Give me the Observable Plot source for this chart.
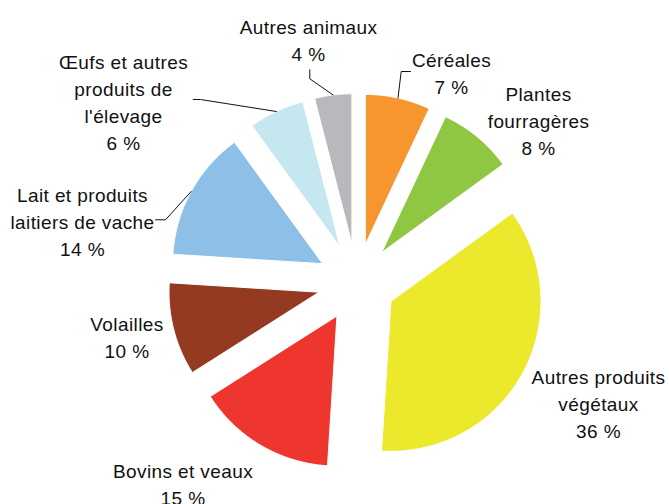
<!DOCTYPE html>
<html>
<head>
<meta charset="utf-8">
<script src="https://cdn.jsdelivr.net/npm/d3@7"></script>
<script src="https://cdn.jsdelivr.net/npm/@observablehq/plot@0.6"></script>
<style>
  html, body { margin: 0; padding: 0; background: #fff; }
</style>
</head>
<body>
<div id="chart"></div>
<script>
// ---- Data ----
const categories = [
  "Céréales",
  "Plantes fourragères",
  "Autres produits végétaux",
  "Bovins et veaux",
  "Volailles",
  "Lait et produits laitiers de vache",
  "Œufs et autres produits de l'élevage",
  "Autres animaux"
];
const values = [7, 8, 36, 15, 10, 14, 6, 4];
const labelLines = [
  "Céréales",
  "Plantes\nfourragères",
  "Autres produits\nvégétaux",
  "Bovins et veaux",
  "Volailles",
  "Lait et produits\nlaitiers de vache",
  "Œufs et autres\nproduits de\nl'élevage",
  "Autres animaux"
];
const colors = ["#F7962F", "#8FC742", "#ECE82C", "#EE352E", "#943A21", "#8EBFE7", "#C5E7F0", "#B8B9BD"];

// ---- Layout (pixels) ----
const W = 669, H = 504;
const cx = 356.3, cy = 282, R = 150, explodePx = 39;
const labelPx = [[451, 71], [538, 119], [598, 402], [182.5, 482.5], [126.5, 335.5], [82, 220], [123, 100.5], [308, 38.5]];
// leader lines: [index, start, elbow]
const leaderPx = [
  [0, [410, 71], [400.7, 71]],
  [5, [155, 219.3], [165, 219.3]],
  [6, [192.7, 99], [200, 99]],
  [7, [309.3, 69.3], [309.3, 78.3]]
];

// data units: radius = 1
const toX = px => (px - cx) / R;
const toY = py => (cy - py) / R;
const off = explodePx / R;

const arcs = d3.pie().sort(null).startAngle(0).endAngle(2 * Math.PI)(values);

const slicePts = [];
arcs.forEach((a, i) => {
  const m = (a.startAngle + a.endAngle) / 2;
  const ox = off * Math.sin(m), oy = off * Math.cos(m);
  const name = categories[i];
  slicePts.push({name, x: ox, y: oy});
  const n = Math.max(8, Math.ceil((a.endAngle - a.startAngle) / 0.01));
  for (let k = 0; k <= n; k++) {
    const t = a.startAngle + (a.endAngle - a.startAngle) * k / n;
    slicePts.push({name, x: ox + Math.sin(t), y: oy + Math.cos(t)});
  }
  slicePts.push({name, x: ox, y: oy});
});

const labels = categories.map((c, i) => ({
  name: c,
  text: labelLines[i] + "\n" + values[i] + " %",
  x: toX(labelPx[i][0]),
  y: toY(labelPx[i][1])
}));

const leaders = [];
leaderPx.forEach(([i, s, e]) => {
  const a = arcs[i];
  const m = (a.startAngle + a.endAngle) / 2;
  leaders.push({name: categories[i], x: toX(s[0]), y: toY(s[1])});
  leaders.push({name: categories[i], x: toX(e[0]), y: toY(e[1])});
  leaders.push({name: categories[i], x: (off + 1) * Math.sin(m), y: (off + 1) * Math.cos(m)});
});

const chart = Plot.plot({
  width: W,
  height: H,
  margin: 0,
  style: {fontFamily: "'Liberation Sans', Arial, sans-serif", fontSize: "19px", letterSpacing: "0.4px", color: "#111", background: "#fff"},
  x: {domain: [toX(0), toX(W)], axis: null},
  y: {domain: [toY(H), toY(0)], axis: null},
  color: {domain: categories, range: colors},
  marks: [
    Plot.line(slicePts, {x: "x", y: "y", z: "name", fill: "name", stroke: "white", strokeWidth: 1, curve: "linear"}),
    Plot.line(leaders, {x: "x", y: "y", z: "name", stroke: "#111", strokeWidth: 1}),
    Plot.text(labels, {x: "x", y: "y", text: "text", lineHeight: 1.42, fontSize: 19, fill: "#111"})
  ]
});
document.getElementById("chart").appendChild(chart);
</script>
</body>
</html>
